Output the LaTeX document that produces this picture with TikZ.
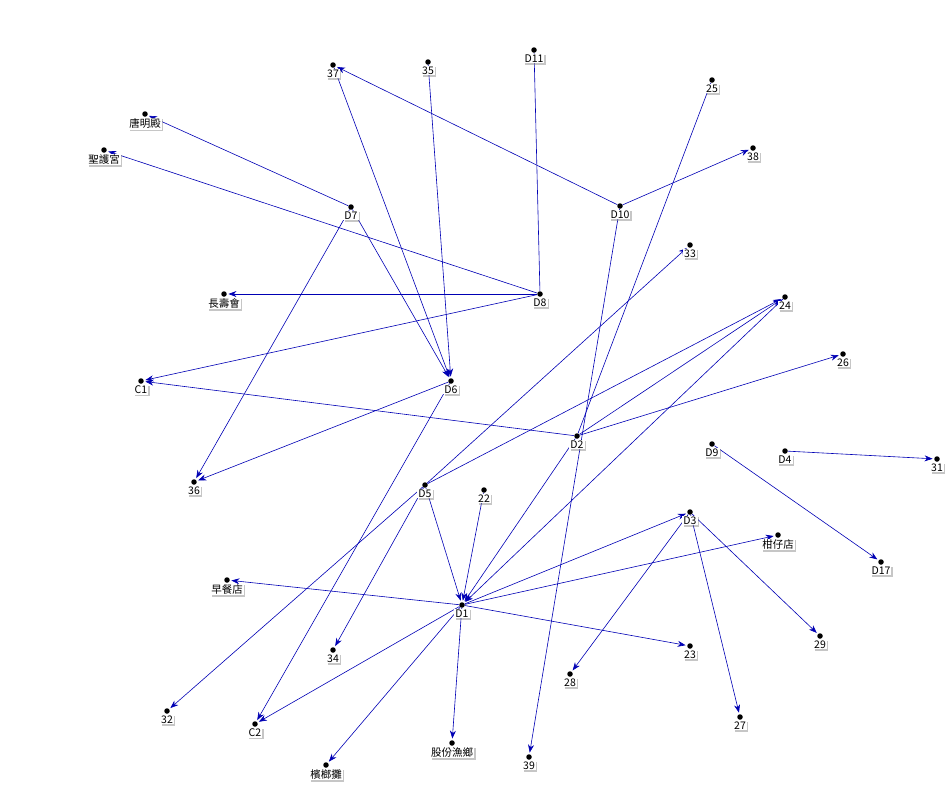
\documentclass[tikz,border=0pt]{standalone}
\usepackage{fontspec}
\setmainfont{Noto Sans CJK TC}
\usetikzlibrary{arrows.meta,shadows}
\definecolor{edgeblue}{RGB}{0,0,180}
\tikzset{
  pt/.style={circle,fill=black,inner sep=0pt,minimum size=5.5pt},
  lbl/.style={fill=white,inner sep=1pt,font=\fontsize{10.5}{11}\selectfont,drop shadow={shadow xshift=1.5pt,shadow yshift=-1.5pt,opacity=0.45}},
  link/.style={edgeblue,semithick,-{Stealth[length=8pt,width=6pt]},shorten >=1.5pt},
  plain/.style={edgeblue,semithick}
}
\begin{document}
\begin{tikzpicture}[x=1pt,y=-1pt]
\useasboundingbox (0,0) rectangle (950,788);
% vertices
\node[pt] (n37) at (333,65) {};
\node[pt] (n35) at (428,62) {};
\node[pt] (D11) at (534,50) {};
\node[pt] (n25) at (712,80) {};
\node[pt] (tang) at (145,114) {};
\node[pt] (sheng) at (104,150) {};
\node[pt] (n38) at (753,148) {};
\node[pt] (D7) at (351,207) {};
\node[pt] (D10) at (620,206) {};
\node[pt] (n33) at (690,245) {};
\node[pt] (chang) at (224,294) {};
\node[pt] (D8) at (540,294) {};
\node[pt] (n24) at (785,297) {};
\node[pt] (n26) at (843,354) {};
\node[pt] (C1) at (141,381) {};
\node[pt] (D6) at (451,381) {};
\node[pt] (D2) at (577,436) {};
\node[pt] (D9) at (712,444) {};
\node[pt] (D4) at (785,451) {};
\node[pt] (n31) at (937,459) {};
\node[pt] (n36) at (194,482) {};
\node[pt] (D5) at (425,485) {};
\node[pt] (n22) at (484,490) {};
\node[pt] (D3) at (690,512) {};
\node[pt] (gan) at (778,535) {};
\node[pt] (D17) at (881,562) {};
\node[pt] (zao) at (227,580) {};
\node[pt] (D1) at (462,605) {};
\node[pt] (n34) at (333,650) {};
\node[pt] (n23) at (690,646) {};
\node[pt] (n28) at (570,674) {};
\node[pt] (n29) at (820,636) {};
\node[pt] (n32) at (167,711) {};
\node[pt] (n27) at (740,717) {};
\node[pt] (C2) at (255,724) {};
\node[pt] (gu) at (452,743) {};
\node[pt] (n39) at (529,757) {};
\node[pt] (bin) at (326,765) {};
% edges
\draw[plain] (n25) -- (D2);
\draw[plain] (D11) -- (D8);
\foreach \a/\b in {D10/n37,D10/n38,D10/n39,D7/tang,D8/sheng,D8/chang,D8/C1,
  D7/D6,D7/n36,n37/D6,n35/D6,D6/n36,D6/C2,D2/C1,D2/n24,D2/n26,D5/n33,D5/n24,D5/n32,D5/n34,
  D5/D1,n22/D1,D2/D1,n24/D1,D1/D3,D1/gan,D1/zao,D1/n23,D1/C2,D1/bin,D1/gu,D3/n28,D3/n27,
  D3/n29,D9/D17,D4/n31}
  \draw[link] (\a) -- (\b);
% labels
\foreach \n/\t in {n37/37,n35/35,D11/D11,n25/25,tang/唐明殿,sheng/聖護宮,n38/38,D7/D7,D10/D10,n33/33,chang/長壽會,D8/D8,n24/24,n26/26,C1/C1,D6/D6,D2/D2,D9/D9,D4/D4,n31/31,n36/36,D5/D5,n22/22,D3/D3,gan/柑仔店,D17/D17,zao/早餐店,D1/D1,n34/34,n23/23,n28/28,n29/29,n32/32,n27/27,C2/C2,gu/股份漁鄉,n39/39,bin/檳榔攤}
  \node[lbl,anchor=north] at ([yshift=-0.5pt]\n.south) {\t};
\end{tikzpicture}
\end{document}
